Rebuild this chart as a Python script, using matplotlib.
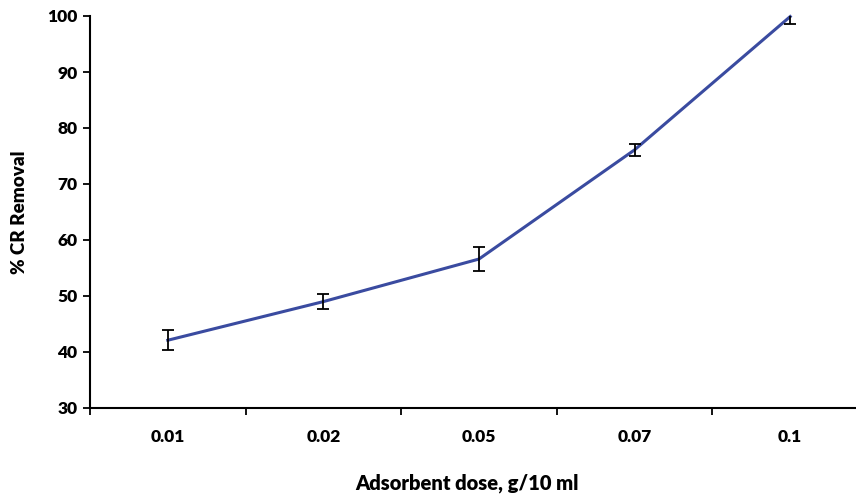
import numpy as np
import matplotlib.pyplot as plt
from matplotlib.ticker import FixedLocator

plt.rcParams['font.family'] = ['Lato', 'DejaVu Sans']
plt.rcParams['font.weight'] = 'bold'

# data
doses = ['0.01', '0.02', '0.05', '0.07', '0.1']
removal = [42.1, 49.0, 56.6, 76.1, 99.9]
err = [1.8, 1.4, 2.1, 1.1, 1.3]

fig = plt.figure(figsize=(8.56, 4.97), dpi=100)
W, H = 856, 497
ax = fig.add_axes([90 / W, 1 - 408 / H, (868 - 90) / W, (408 - 16) / H])

x = np.arange(len(doses))
ax.plot(x, removal, color='#3a4ba0', lw=2.2, zorder=3, clip_on=False)
ax.errorbar(x, removal, yerr=err, fmt='none', ecolor='black', elinewidth=1.3,
            capsize=4, capthick=1.3, zorder=4)

ax.set_xlim(-0.5, len(doses) - 0.5)
ax.set_ylim(30, 100)
ax.set_yticks(range(30, 101, 10))
ax.set_xticks(x)
ax.set_xticklabels(doses)
ax.xaxis.set_minor_locator(FixedLocator(np.arange(-0.5, len(doses), 1)))
ax.tick_params(axis='x', which='major', length=0, pad=15, labelsize=12.5)
ax.tick_params(axis='x', which='minor', length=5, width=1.3, direction='out')
ax.tick_params(axis='y', length=5, width=1.3, direction='out', labelsize=12.5, pad=4)
for lab in ax.get_xticklabels() + ax.get_yticklabels():
    lab.set_fontweight('heavy')

for s in ['top', 'right']:
    ax.spines[s].set_visible(False)
for s in ['left', 'bottom']:
    ax.spines[s].set_linewidth(1.5)

ax.set_ylabel('% CR Removal', fontsize=13.5, fontweight='heavy', labelpad=14)
ax.set_xlabel('Adsorbent dose, g/10 ml', fontsize=14.5, fontweight='heavy')
ax.xaxis.set_label_coords(0.485, -0.168)

fig.savefig('out.png', dpi=100)
